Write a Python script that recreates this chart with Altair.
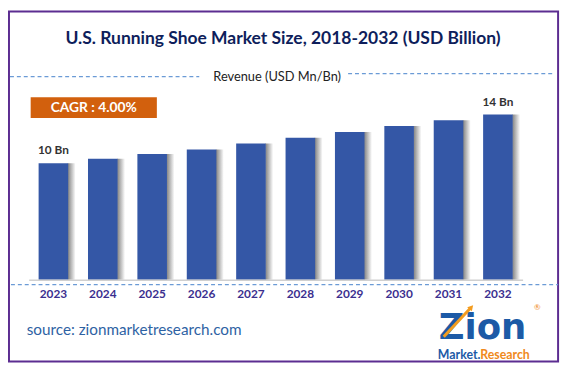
import altair as alt
import pandas as pd

years = ["2023", "2024", "2025", "2026", "2027", "2028", "2029", "2030", "2031", "2032"]
revenue = [10.0, 10.4, 10.8, 11.2, 11.7, 12.2, 12.7, 13.2, 13.7, 14.2]
bar_labels = ["10 Bn", "", "", "", "", "", "", "", "", "14 Bn"]

title_text = "U.S. Running Shoe Market Size, 2018-2032 (USD Billion)"
subtitle_text = "Revenue (USD Mn/Bn)"
cagr_text = "CAGR : 4.00%"
source_text = "source: zionmarketresearch.com"

FONT = "Lato"
BAR_COLOR = "#3457a6"

df = pd.DataFrame({"year": years, "value": revenue, "label": bar_labels})
one = pd.DataFrame({"a": [0]})

xscale = alt.Scale(paddingInner=0, paddingOuter=0)
yscale = alt.Scale(domain=[0, 15], nice=False)

xaxis = alt.Axis(title=None, labelAngle=0, ticks=False, domain=True,
                 domainColor="#d0d0d0", domainWidth=1.5,
                 labelFont=FONT, labelFontSize=12, labelFontWeight="bold",
                 labelColor="#3b2f8f", labelPadding=9, grid=False)
xenc = alt.X("year:N", scale=xscale, sort=years, axis=xaxis)
yenc = alt.Y("value:Q", scale=yscale, axis=None)

shadow = alt.Chart(df).mark_rect(
    fill=alt.Gradient(gradient="linear",
                      stops=[alt.GradientStop(color="#808080", offset=0),
                             alt.GradientStop(color="#ffffff", offset=1)],
                      x1=0, x2=1, y1=0, y2=0),
).encode(
    x=alt.X("year:N", scale=xscale, sort=years, axis=xaxis, bandPosition=0.79),
    x2=alt.X2("year", bandPosition=0.95),
    y=alt.Y("value:Q", scale=yscale, axis=None),
    y2=alt.datum(0),
)

bars = alt.Chart(df).mark_bar(color=BAR_COLOR, width=30).encode(x=xenc, y=yenc)

labels = alt.Chart(df).mark_text(
    font=FONT, fontSize=12, fontWeight="bold", color="#333333",
    baseline="bottom", dy=-6
).encode(x=xenc, y=yenc, text="label:N")

def txt(s, x, y, size, color, weight="normal", align="center", baseline="middle",
        font=FONT):
    return alt.Chart(one).mark_text(
        font=font, fontSize=size, fontWeight=weight, color=color,
        align=align, baseline=baseline
    ).encode(x=alt.value(x), y=alt.value(y), text=alt.value(s))

def line(x1, x2, y, color, dash=None, width=1.2):
    kw = dict(color=color, strokeWidth=width)
    if dash:
        kw["strokeDash"] = dash
    return alt.Chart(one).mark_rule(**kw).encode(
        x=alt.value(x1), x2=alt.value(x2), y=alt.value(y))

frame = alt.Chart(one).mark_rect(
    fillOpacity=0, stroke="#5c2d91", strokeWidth=2
).encode(x=alt.value(-20), x2=alt.value(537), y=alt.value(-95), y2=alt.value(260))

title = txt(title_text, 258, -67, 17.7, "#0e1e5b", weight="bold")
subtitle = txt(subtitle_text, 252, -29, 13, "#222222")
dash_left = line(-19, 173, -29, "#6b9bd6", dash=[4, 3])
dash_right = line(324, 532, -32, "#6b9bd6", dash=[4, 3])

cagr_box = alt.Chart(one).mark_rect(color="#d2600d").encode(
    x=alt.value(2), x2=alt.value(130), y=alt.value(-8), y2=alt.value(13))
cagr = txt(cagr_text, 66, 3, 14, "#ffffff", weight="bold")

bottom_dash = line(-25, 537, 182, "#6b9bd6", dash=[4, 3])
source = txt(source_text, -2, 228, 15.5, "#2e62a3", align="left")

logo_zion = txt("Zion", 416, 237, 36, "#1c5aa6", weight="bold", align="left",
                baseline="alphabetic", font="DejaVu Sans")
logo_arrow = alt.Chart(one).mark_rule(color="#f39c1f", strokeWidth=3).encode(
    x=alt.value(421), x2=alt.value(448), y=alt.value(235), y2=alt.value(206))
logo_tip = alt.Chart(one).mark_point(shape="triangle-up", filled=True, size=40,
                                     color="#f39c1f", opacity=1, angle=42).encode(
    x=alt.value(449), y=alt.value(205))
logo_market = txt("Market.", 415, 253, 12.5, "#1c5aa6", weight="bold", align="left")
logo_research = txt("Research", 458, 253, 12.5, "#f08a1c", weight="bold", align="left")
logo_reg = txt("®", 516, 206, 8, "#f08a1c")

chart = alt.layer(
    frame, title, subtitle, dash_left, dash_right,
    shadow, bars, labels, cagr_box, cagr,
    bottom_dash, source, logo_zion, logo_arrow, logo_tip, logo_market,
    logo_research, logo_reg
).properties(
    width=501, height=177,
    padding={"left": 21, "top": 96, "right": 42, "bottom": 85},
    autosize=alt.AutoSizeParams(type="none"),
    background="#ffffff",
).configure_view(stroke=None)

chart.save("out.html", embed_options={"renderer": "svg", "actions": False})
